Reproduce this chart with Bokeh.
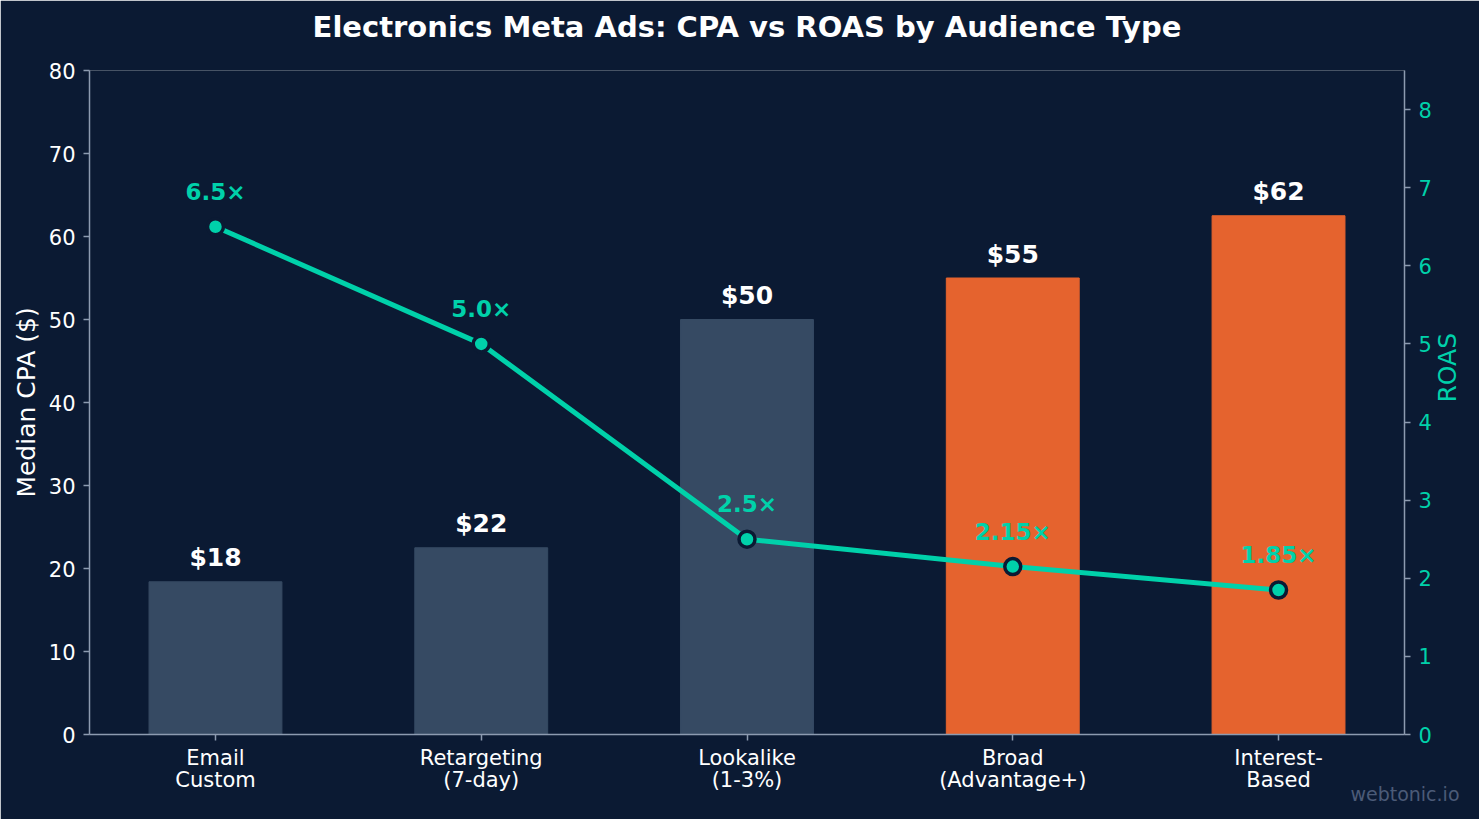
import math
from bokeh.plotting import figure
from bokeh.models import Range1d, LinearAxis, FixedTicker, Title, ColumnDataSource
from bokeh.core.properties import value
from bokeh.embed import file_html
from bokeh.resources import INLINE

categories = ["Email\nCustom", "Retargeting\n(7-day)", "Lookalike\n(1-3%)", "Broad\n(Advantage+)", "Interest-\nBased"]
cpa = [18.4, 22.5, 50.0, 55.0, 62.5]
cpa_labels = ["$18", "$22", "$50", "$55", "$62"]
roas = [6.5, 5.0, 2.5, 2.15, 1.85]
roas_labels = ["6.5×", "5.0×", "2.5×", "2.15×", "1.85×"]
bar_colors = ["#364a63", "#364a63", "#364a63", "#e5632e", "#e5632e"]
left_ticks = [0, 10, 20, 30, 40, 50, 60, 70, 80]
right_ticks = [0, 1, 2, 3, 4, 5, 6, 7, 8]

BG = "#0b1a33"
TEAL = "#00d1aa"
AXIS = "#8d9bb0"
FONT = "DejaVu Sans"

xs = list(range(len(categories)))

p = figure(width=1479, height=819, output_backend="svg", toolbar_location=None,
           title_location=None,
           x_range=Range1d(-0.474, 4.474), y_range=Range1d(0, 80),
           background_fill_color=BG, border_fill_color=BG,
           min_border_left=89, min_border_right=75, min_border_top=70, min_border_bottom=85)
p.outline_line_color = None
p.grid.visible = False

spacer = Title(text=" ", text_font_size="1px", standoff=20, text_color=BG)
p.add_layout(spacer, "above")
main_title = Title(text="Electronics Meta Ads: CPA vs ROAS by Audience Type", align="center",
                   vertical_align="bottom", text_color="white", text_font=FONT,
                   text_font_style="bold", text_font_size="29px", standoff=8)
p.add_layout(main_title, "above")

p.extra_y_ranges = {"roas": Range1d(0, 8.5)}

src = ColumnDataSource(dict(x=xs, cpa=cpa, roas=roas, color=bar_colors,
                            cl=cpa_labels, rl=roas_labels))

p.vbar(x="x", top="cpa", width=0.5, color="color", source=src)
p.text(x="x", y="cpa", text="cl", source=src, text_align="center", text_baseline="middle",
       y_offset=-24, text_color="white", text_font=value(FONT), text_font_style="bold",
       text_font_size="25px")

p.line(x="x", y="roas", source=src, y_range_name="roas", line_color=TEAL, line_width=5)
p.scatter(x="x", y="roas", source=src, y_range_name="roas", size=16, fill_color=TEAL,
          line_color=BG, line_width=3.5)
p.text(x="x", y="roas", text="rl", source=src, y_range_name="roas", text_align="center",
       text_baseline="middle", y_offset=-35, text_color=TEAL, text_font=value(FONT),
       text_font_style="bold", text_font_size="23px")

def style_axis(ax, label_color):
    ax.axis_line_color = AXIS
    ax.axis_line_width = 1.5
    ax.major_tick_line_color = AXIS
    ax.major_tick_line_width = 1.5
    ax.major_tick_out = 6
    ax.major_tick_in = 0
    ax.minor_tick_line_color = None
    ax.major_label_standoff = 8
    ax.major_label_text_color = label_color
    ax.major_label_text_font = FONT
    ax.major_label_text_font_size = "21px"
    ax.axis_label_text_font = FONT
    ax.axis_label_text_font_size = "25px"
    ax.axis_label_text_font_style = "normal"
    ax.axis_label_standoff = 10

xa = p.xaxis[0]
style_axis(xa, "white")
xa.ticker = FixedTicker(ticks=xs)
xa.major_label_overrides = {i: c for i, c in enumerate(categories)}
xa.major_label_standoff = 5
xa.major_label_text_line_height = 0.95

ya = p.yaxis[0]
style_axis(ya, "white")
ya.ticker = FixedTicker(ticks=left_ticks)
ya.axis_label = "Median CPA ($)"
ya.axis_label_text_color = "white"
ya.axis_label_standoff = 5

ra = LinearAxis(y_range_name="roas")
style_axis(ra, TEAL)
ra.ticker = FixedTicker(ticks=right_ticks)
ra.axis_label = "ROAS"
ra.axis_label_text_color = TEAL
ra.axis_label_orientation = math.pi / 2
ra.axis_label_standoff = 13
p.add_layout(ra, "right")

wm = Title(text="webtonic.io", align="right", vertical_align="top", text_color="#4b5b78",
           text_font=FONT, text_font_size="19px", text_font_style="normal",
           standoff=-26, offset=-55)
p.add_layout(wm, "below")

open("out.html", "w").write(file_html(p, INLINE))
